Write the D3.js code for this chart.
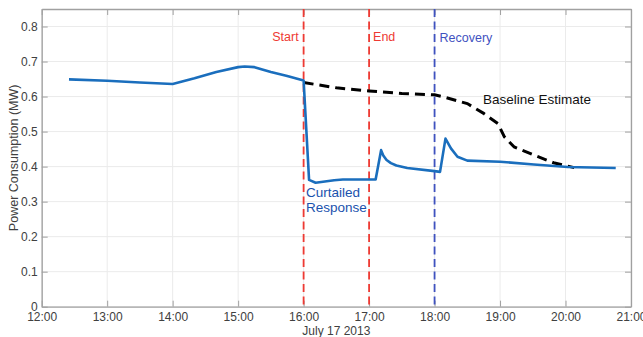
<!DOCTYPE html>
<html><head><meta charset="utf-8">
<script src="https://cdn.jsdelivr.net/npm/d3@7"></script>
<style>
body{margin:0;background:#fff;}
svg{display:block;font-family:"Liberation Sans",Arial,sans-serif;}
</style></head>
<body><svg id="c" width="643" height="337"></svg>
<script>
// ---- data ----
const responseTimes = ["12:25","13:00","13:30","14:00","14:20","14:40","15:00","15:06","15:15","15:30","15:45","16:00","16:05","16:11","16:28","16:36","17:06","17:11","17:13","17:16","17:20","17:25","17:35","18:00","18:05","18:10","18:15","18:21","18:30","19:00","19:31","20:02","20:46"];
const responseValues = [0.649,0.645,0.640,0.636,0.652,0.670,0.684,0.686,0.684,0.670,0.659,0.646,0.362,0.354,0.361,0.363,0.363,0.447,0.432,0.419,0.410,0.403,0.396,0.387,0.385,0.480,0.452,0.428,0.417,0.414,0.406,0.399,0.396];
const baselineTimes = ["16:00","16:30","17:00","17:30","18:00","18:08","18:30","18:45","18:58","19:04","19:13","19:31","19:49","20:08"];
const baselineValues = [0.640,0.625,0.616,0.609,0.605,0.599,0.580,0.552,0.523,0.485,0.456,0.433,0.411,0.397];
const eventTimes = ["16:00","17:00","18:00"];
const eventLabels = ["Start","End","Recovery"];
const xTickLabels = ["12:00","13:00","14:00","15:00","16:00","17:00","18:00","19:00","20:00","21:00"];
const yTickValues = [0,0.1,0.2,0.3,0.4,0.5,0.6,0.7,0.8];
const yTickLabels = ["0","0.1","0.2","0.3","0.4","0.5","0.6","0.7","0.8"];
const dateLabel = "July 17 2013";
const yLabel = "Power Consumption (MW)";

const parse = t => d3.timeParse("%Y-%m-%d %H:%M")("2013-07-17 " + t);

const svg = d3.select("#c");
const L = 41.7, R = 631, T = 9, B = 306.7;
const x = d3.scaleTime().domain([parse("12:00"), parse("21:00")]).range([L, R]);
const y = d3.scaleLinear().domain([0, 0.85]).range([B, T]);

const gridC = "#ebebeb", axisC = "#a0a0a0", textC = "#404040";

// grid
const g = svg.append("g");
g.selectAll("line.vx").data(xTickLabels).join("line")
  .attr("x1", d => x(parse(d))).attr("x2", d => x(parse(d)))
  .attr("y1", T).attr("y2", B).attr("stroke", gridC).attr("stroke-width", 1);
g.selectAll("line.hy").data(yTickValues).join("line")
  .attr("class","hy")
  .attr("x1", L).attr("x2", R)
  .attr("y1", d => y(d)).attr("y2", d => y(d)).attr("stroke", gridC).attr("stroke-width", 1);

// axes (inward ticks)
const xAxB = d3.axisBottom(x).tickValues(xTickLabels.map(parse)).tickFormat(d3.timeFormat("%H:%M")).tickSizeInner(-6).tickSizeOuter(0).tickPadding(5.5);
const xAxT = d3.axisTop(x).tickValues(xTickLabels.map(parse)).tickFormat("").tickSizeInner(-6).tickSizeOuter(0);
const yAxL = d3.axisLeft(y).tickValues(yTickValues).tickFormat((d,i) => yTickLabels[i]).tickSizeInner(-6).tickSizeOuter(0).tickPadding(4);
const yAxR = d3.axisRight(y).tickValues(yTickValues).tickFormat("").tickSizeInner(-6).tickSizeOuter(0);

function style(sel){
  sel.selectAll("path").attr("stroke", axisC).attr("stroke-width", 1.3);
  sel.selectAll("line").attr("stroke", axisC).attr("stroke-width", 1);
  sel.selectAll("text").attr("fill", textC).style("font-size", "12px").style("font-family", '"Liberation Sans",Arial,sans-serif');
}
svg.append("g").attr("transform", `translate(0,${B})`).call(xAxB).call(style);
svg.append("g").attr("transform", `translate(0,${T})`).call(xAxT).call(style);
svg.append("g").attr("transform", `translate(${L},0)`).call(yAxL).call(style);
svg.append("g").attr("transform", `translate(${R},0)`).call(yAxR).call(style);

// event lines
const evColors = ["#ee3a33","#ee3a33","#3f52bf"];
svg.selectAll("line.ev").data(eventTimes).join("line")
  .attr("x1", d => x(parse(d))).attr("x2", d => x(parse(d)))
  .attr("y1", T).attr("y2", B)
  .attr("stroke", (d,i) => evColors[i]).attr("stroke-width", 1.8)
  .attr("stroke-dasharray", "8,4.5");
// event labels
svg.append("text").attr("x", x(parse(eventTimes[0])) - 5).attr("y", 41).attr("text-anchor","end")
  .attr("fill", evColors[0]).style("font-size","12.5px").text(eventLabels[0]);
svg.append("text").attr("x", x(parse(eventTimes[1])) + 4).attr("y", 41)
  .attr("fill", evColors[1]).style("font-size","12.5px").text(eventLabels[1]);
svg.append("text").attr("x", x(parse(eventTimes[2])) + 5).attr("y", 42)
  .attr("fill", evColors[2]).style("font-size","12.5px").text(eventLabels[2]);

// lines
const line = d3.line().x(d => x(d[0])).y(d => y(d[1]));
const resp = responseTimes.map((t,i) => [parse(t), responseValues[i]]);
const base = baselineTimes.map((t,i) => [parse(t), baselineValues[i]]);

svg.append("path").datum(base).attr("d", line).attr("fill","none")
  .attr("stroke","#000").attr("stroke-width",3).attr("stroke-dasharray","10,6");
svg.append("path").datum(resp).attr("d", line).attr("fill","none")
  .attr("stroke","#1a6ebd").attr("stroke-width",2.6).attr("stroke-linejoin","round");

// annotations
svg.append("text").attr("x", 483).attr("y", 103.5).attr("fill","#111")
  .style("font-size","13.5px").text("Baseline Estimate");
const ct = svg.append("text").attr("x", 306).attr("y", 196.7).attr("fill","#1a52ad").style("font-size","13.5px");
ct.append("tspan").attr("x",306).text("Curtailed");
ct.append("tspan").attr("x",306).attr("dy",15).text("Response");

// axis titles
svg.append("text").attr("x", (L+R)/2).attr("y", 335).attr("text-anchor","middle")
  .attr("fill", textC).style("font-size","12px").text(dateLabel);
svg.append("text").attr("transform", `translate(18.3,${(T+B)/2}) rotate(-90)`).attr("text-anchor","middle")
  .attr("fill", textC).style("font-size","12.5px").text(yLabel);
</script></body></html>
